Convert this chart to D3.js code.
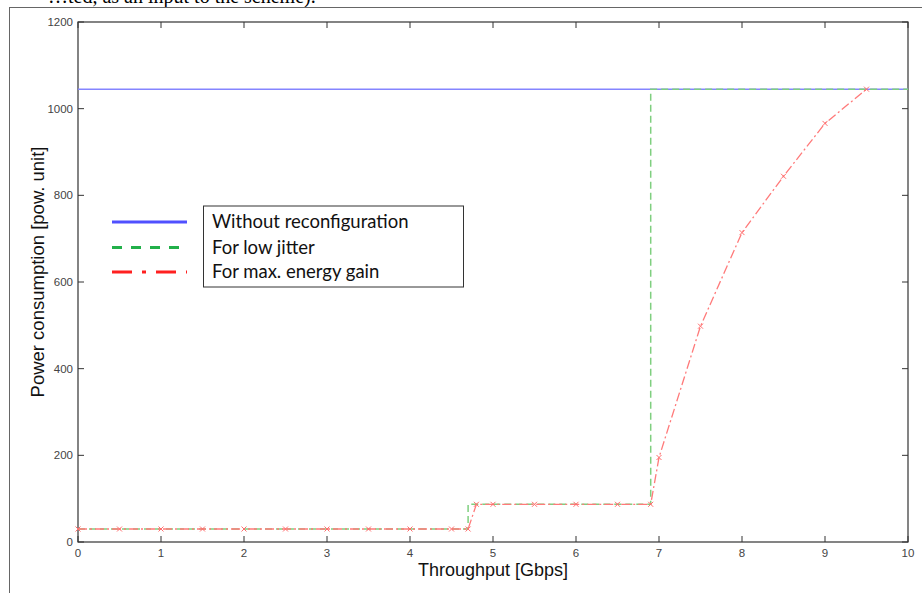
<!DOCTYPE html>
<html>
<head>
<meta charset="utf-8">
<script src="https://cdn.jsdelivr.net/npm/d3@7"></script>
<style>
  html, body { margin: 0; padding: 0; background: #fff; }
  svg { display: block; }
</style>
</head>
<body>
<svg id="chart" width="922" height="593"></svg>
<script>
// ---- data ----
const xTicks = [0, 1, 2, 3, 4, 5, 6, 7, 8, 9, 10];
const yTicks = [0, 200, 400, 600, 800, 1000, 1200];

const blueX = [0, 10];
const blueY = [1045, 1045];

const greenX = [0, 4.7, 4.7, 6.9, 6.9, 10];
const greenY = [30, 30, 87, 87, 1045, 1045];

const redX = [0, 0.5, 1, 1.5, 2, 2.5, 3, 3.5, 4, 4.5, 4.7, 4.8, 5, 5.5, 6, 6.5, 6.9, 7, 7.5, 8, 8.5, 9, 9.5];
const redY = [30, 30, 30, 30, 30, 30, 30, 30, 30, 30, 30, 87, 87, 87, 87, 87, 87, 195, 498, 714, 844, 966, 1045];

const legendLabels = ["Without reconfiguration", "For low jitter", "For max. energy gain"];

// ---- layout ----
const svg = d3.select("#chart");
const L = 78, R = 908, T = 22, B = 542;
const x = d3.scaleLinear().domain([0, 10]).range([L, R]);
const y = d3.scaleLinear().domain([0, 1200]).range([B, T]);

// page frame + caption text (partly above the frame, as in the reference)
svg.append("text")
  .attr("x", 48).attr("y", 3)
  .attr("font-family", "Liberation Serif, serif")
  .attr("font-size", 20)
  .attr("fill", "#000")
  .text("…ted, as an input to the scheme).");
svg.append("rect").attr("x", 0).attr("y", 7).attr("width", 922).attr("height", 586).attr("fill", "#fff");
svg.append("line").attr("x1", 9.5).attr("x2", 9.5).attr("y1", 7).attr("y2", 593)
  .attr("stroke", "#666").attr("stroke-width", 1);
svg.append("line").attr("x1", 9.5).attr("x2", 922).attr("y1", 7.5).attr("y2", 7.5)
  .attr("stroke", "#666").attr("stroke-width", 1);

// axes box
const axisColor = "#333";
svg.append("rect").attr("x", L).attr("y", T).attr("width", R - L).attr("height", B - T)
  .attr("fill", "none").attr("stroke", axisColor).attr("stroke-width", 1.2);

const tickLen = 6;
const g = svg.append("g");
xTicks.forEach(t => {
  g.append("line").attr("x1", x(t)).attr("x2", x(t)).attr("y1", B).attr("y2", B - tickLen).attr("stroke", axisColor);
  g.append("line").attr("x1", x(t)).attr("x2", x(t)).attr("y1", T).attr("y2", T + tickLen).attr("stroke", axisColor);
  g.append("text").attr("x", x(t)).attr("y", B + 15)
    .attr("text-anchor", "middle").attr("font-family", "Liberation Sans, Arial, sans-serif")
    .attr("font-size", 11.5).attr("fill", "#444").text(t);
});
yTicks.forEach(t => {
  g.append("line").attr("x1", L).attr("x2", L + tickLen).attr("y1", y(t)).attr("y2", y(t)).attr("stroke", axisColor);
  g.append("line").attr("x1", R).attr("x2", R - tickLen).attr("y1", y(t)).attr("y2", y(t)).attr("stroke", axisColor);
  g.append("text").attr("x", L - 5).attr("y", y(t) + 4)
    .attr("text-anchor", "end").attr("font-family", "Liberation Sans, Arial, sans-serif")
    .attr("font-size", 11.5).attr("fill", "#444").text(t);
});

// axis titles
svg.append("text").attr("x", 493).attr("y", 576)
  .attr("text-anchor", "middle").attr("font-family", "Liberation Sans, Arial, sans-serif")
  .attr("font-size", 18).attr("fill", "#111").text("Throughput [Gbps]");
svg.append("text").attr("transform", "translate(44,272) rotate(-90)")
  .attr("text-anchor", "middle").attr("font-family", "Liberation Sans, Arial, sans-serif")
  .attr("font-size", 18.5).attr("fill", "#111").text("Power consumption [pow. unit]");

// ---- series ----
const line = d3.line().x(d => x(d[0])).y(d => y(d[1]));
const blueData = blueX.map((v, i) => [v, blueY[i]]);
const greenData = greenX.map((v, i) => [v, greenY[i]]);
const redData = redX.map((v, i) => [v, redY[i]]);

svg.append("path").datum(blueData).attr("d", line)
  .attr("fill", "none").attr("stroke", "#8585ff").attr("stroke-width", 1.5);
svg.append("path").datum(greenData).attr("d", line)
  .attr("fill", "none").attr("stroke", "#7fcf7f").attr("stroke-width", 1.5)
  .attr("stroke-dasharray", "7,4");
svg.append("path").datum(redData).attr("d", line)
  .attr("fill", "none").attr("stroke", "#ff7a7a").attr("stroke-width", 1.3)
  .attr("stroke-dasharray", "9,3,2,3");

const ms = 2.5;
svg.append("g").selectAll("path").data(redData).join("path")
  .attr("d", d => {
    const cx = x(d[0]), cy = y(d[1]);
    return `M${cx - ms},${cy - ms}L${cx + ms},${cy + ms}M${cx - ms},${cy + ms}L${cx + ms},${cy - ms}`;
  })
  .attr("stroke", "#ff6e6e").attr("stroke-width", 1).attr("fill", "none");

// ---- legend ----
const legColors = ["#5050ff", "#22b04a", "#ff2020"];
const legDash = [null, "10,9", "20,10,4,10"];
const legY = [222, 247.5, 272];
const lg = svg.append("g");
lg.append("rect").attr("x", 203.5).attr("y", 206).attr("width", 260).attr("height", 81)
  .attr("fill", "#fff").attr("stroke", "#333").attr("stroke-width", 1);
legendLabels.forEach((lab, i) => {
  lg.append("line").attr("x1", 112).attr("x2", 187).attr("y1", legY[i]).attr("y2", legY[i])
    .attr("stroke", legColors[i]).attr("stroke-width", 3)
    .attr("stroke-dasharray", legDash[i]);
  lg.append("text").attr("x", 212).attr("y", legY[i] + 6)
    .attr("font-family", "Lato, 'Open Sans', sans-serif")
    .attr("font-size", 18.5).attr("fill", "#111").text(lab);
});
</script>
</body>
</html>
